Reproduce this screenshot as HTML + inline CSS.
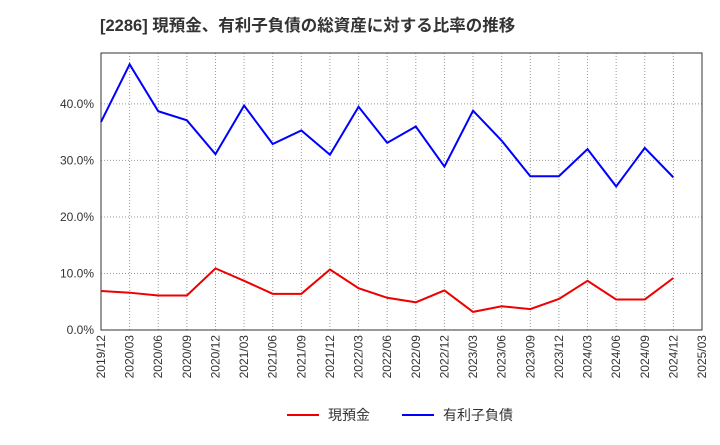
<!DOCTYPE html>
<html><head><meta charset="utf-8"><style>
body{margin:0;background:#fff;font-family:"Liberation Sans","Noto Sans CJK JP",sans-serif}
</style></head><body>
<svg id="c" width="720" height="440" xmlns="http://www.w3.org/2000/svg">
<text x="100" y="31" font-size="16.5" font-weight="bold" fill="#333" font-family="Liberation Sans,Noto Sans CJK JP,sans-serif">[2286]  現預金、有利子負債の総資産に対する比率の推移</text>
<g id="grid"></g><g id="axes"></g><g id="series"></g>
<g>
<line x1="287" y1="415" x2="319" y2="415" stroke="#e00" stroke-width="2"/>
<text x="328" y="420" font-size="14" fill="#333" font-family="Liberation Sans,Noto Sans CJK JP,sans-serif">現預金</text>
<line x1="402" y1="415" x2="434" y2="415" stroke="#00f" stroke-width="2"/>
<text x="443" y="420" font-size="14" fill="#333" font-family="Liberation Sans,Noto Sans CJK JP,sans-serif">有利子負債</text>
</g>
</svg>
<script>
const categories=["2019/12","2020/03","2020/06","2020/09","2020/12","2021/03","2021/06","2021/09","2021/12","2022/03","2022/06","2022/09","2022/12","2023/03","2023/06","2023/09","2023/12","2024/03","2024/06","2024/09","2024/12","2025/03"];
const cashValues=[6.9,6.6,6.1,6.1,10.9,8.7,6.4,6.4,10.7,7.4,5.7,4.9,7.0,3.2,4.2,3.7,5.5,8.7,5.4,5.4,9.2];
const debtValues=[36.8,47.0,38.7,37.1,31.1,39.7,32.9,35.3,31.0,39.5,33.1,36.0,28.9,38.8,33.5,27.2,27.2,32.0,25.4,32.2,27.0];
const yTicks=[0,10,20,30,40];
const yTickLabels=["0.0%","10.0%","20.0%","30.0%","40.0%"];
const L=101,R=702,T=53,B=330,YMAX=49;
const NS="http://www.w3.org/2000/svg";
const xS=i=>L+(R-L)*i/(categories.length-1);
const yS=v=>B-(B-T)*v/YMAX;
function mk(tag,attrs,parent){const e=document.createElementNS(NS,tag);for(const k in attrs)e.setAttribute(k,attrs[k]);parent.appendChild(e);return e;}
const grid=document.getElementById('grid'),axes=document.getElementById('axes'),ser=document.getElementById('series');
categories.forEach((c,i)=>{
 const x=xS(i);
 const g=mk('line',{x1:x,x2:x,y1:T,y2:B,stroke:'#999','stroke-dasharray':'1,2','stroke-width':1},grid);
 
 
 const t=mk('text',{x:0,y:0,'font-size':12,fill:'#333','text-anchor':'end',transform:`translate(${x+4},${B+5}) rotate(-90)`},axes);
 t.textContent=c;
 
 
});
yTicks.forEach((v,i)=>{
 const y=yS(v);
 const g=mk('line',{x1:L,x2:R,y1:y,y2:y,stroke:'#999','stroke-dasharray':'1,2','stroke-width':1},grid);
 
 
 const t=mk('text',{x:L-7,y:y+4,'font-size':12,fill:'#333','text-anchor':'end'},axes);
 t.textContent=yTickLabels[i];
 
 
});
const frame=mk('rect',{x:L,y:T,width:R-L,height:B-T,fill:'none',stroke:'#333','stroke-width':1},axes);


const p1=mk('polyline',{points:cashValues.map((v,i)=>xS(i)+','+yS(v)).join(' '),fill:'none',stroke:'#e00','stroke-width':2},ser);


const p2=mk('polyline',{points:debtValues.map((v,i)=>xS(i)+','+yS(v)).join(' '),fill:'none',stroke:'#00f','stroke-width':2},ser);


</script>
</body></html>
